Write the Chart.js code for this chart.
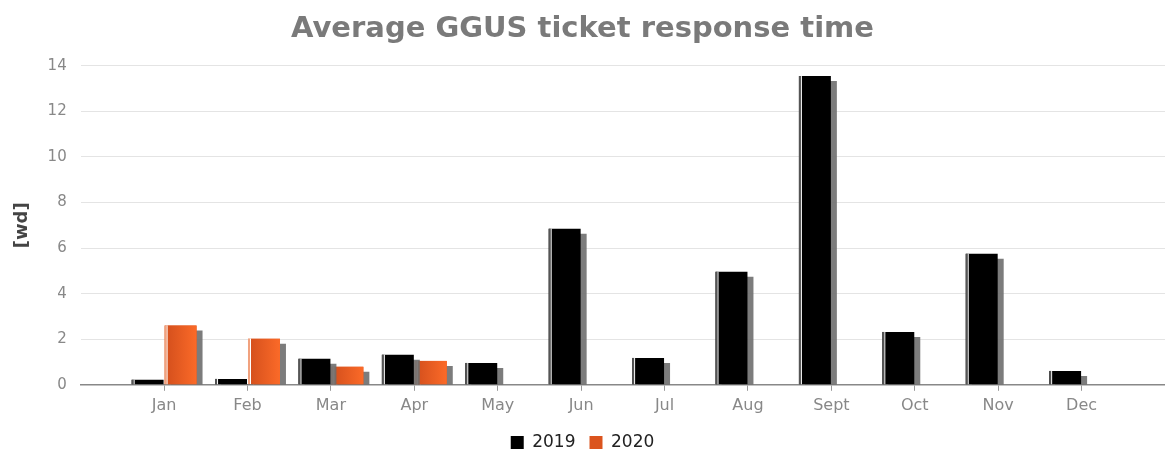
<!DOCTYPE html>
<html>
<head>
<meta charset="utf-8">
<script src="https://cdn.jsdelivr.net/npm/chart.js@4/dist/chart.umd.min.js"></script>
<style>
  html, body { margin: 0; padding: 0; background: #fff; }
  #wrap { width: 1165px; height: 450px; }
</style>
</head>
<body>
<div id="wrap"><canvas id="ggusChart"></canvas></div>
<script>
const months = ['Jan', 'Feb', 'Mar', 'Apr', 'May', 'Jun', 'Jul', 'Aug', 'Sept', 'Oct', 'Nov', 'Dec'];
const values2019 = [0.22, 0.26, 1.14, 1.32, 0.96, 6.85, 1.18, 4.96, 13.55, 2.32, 5.75, 0.61];
const values2020 = [2.6, 2.02, 0.79, 1.05, null, null, null, null, null, null, null, null];
const yTicks = [0, 2, 4, 6, 8, 10, 12, 14];

// empty slot on each side so the months sit inside the full-width axis
const labels = [''].concat(months, ['']);
const pad = arr => [null].concat(arr, [null]);
const FONT = "'DejaVu Sans', sans-serif";

// grey drop shadow behind every bar
const barShadow = {
  id: 'barShadow',
  beforeDatasetsDraw(chart) {
    const ctx = chart.ctx;
    ctx.save();
    ctx.shadowColor = 'rgba(110,110,110,0.9)';
    ctx.shadowOffsetX = 6;
    ctx.shadowOffsetY = 5;
    ctx.shadowBlur = 0;
  },
  afterDatasetsDraw(chart) {
    chart.ctx.restore();
  }
};

// gradient on the orange bars and the thin light strip on the left edge
const barShine = {
  id: 'barShine',
  afterDatasetDraw(chart, args) {
    const ctx = chart.ctx;
    const area = chart.chartArea;
    const meta = args.meta;
    ctx.save();
    ctx.shadowColor = 'rgba(0,0,0,0)';
    ctx.beginPath();
    ctx.rect(area.left, area.top, area.right - area.left, area.bottom - area.top);
    ctx.clip();
    meta.data.forEach((bar, i) => {
      const raw = chart.data.datasets[args.index].data[i];
      if (raw === null || raw === undefined) return;
      const p = bar.getProps(['x', 'y', 'base', 'width'], true);
      const left = p.x - p.width / 2;
      const right = p.x + p.width / 2;
      if (args.index === 1) {
        const g = ctx.createLinearGradient(left, 0, right, 0);
        g.addColorStop(0, '#d24e1c');
        g.addColorStop(1, '#fb6a28');
        ctx.fillStyle = g;
        ctx.fillRect(left + 3, p.y, p.width - 3, p.base - p.y);
        ctx.fillStyle = '#f1a27e';
        ctx.fillRect(left, p.y, 2, p.base - p.y);
      } else {
        ctx.fillStyle = '#555';
        ctx.fillRect(left, p.y, 2, p.base - p.y);
      }
      ctx.fillStyle = '#ffffff';
      ctx.fillRect(left + 2, p.y, 1, p.base - p.y);
    });
    ctx.restore();
  }
};

const ctx = document.getElementById('ggusChart').getContext('2d');
new Chart(ctx, {
  type: 'bar',
  data: {
    labels: labels,
    datasets: [{
      label: '2019',
      data: pad(values2019),
      backgroundColor: '#000000'
    }, {
      label: '2020',
      data: pad(values2020),
      backgroundColor: '#db541e'
    }]
  },
  options: {
    responsive: true,
    maintainAspectRatio: false,
    animation: false,
    datasets: { bar: { categoryPercentage: 0.79, barPercentage: 0.97 } },
    layout: { padding: { left: 0, right: 0, top: 0, bottom: -11 } },
    plugins: {
      title: {
        display: true,
        text: 'Average GGUS ticket response time',
        color: '#7a7a7a',
        font: { family: FONT, size: 29, weight: 'bold' },
        padding: { top: 12, bottom: 19 }
      },
      legend: {
        position: 'bottom',
        labels: {
          color: '#222',
          font: { family: FONT, size: 17 },
          boxWidth: 13,
          boxHeight: 13,
          padding: 14
        }
      },
      tooltip: { enabled: false }
    },
    scales: {
      x: {
        offset: false,
        afterFit: s => { s.paddingRight = 0; },
        border: { color: '#888', width: 1.5 },
        grid: {
          offset: false,
          drawOnChartArea: false,
          drawTicks: true,
          tickLength: 6,
          tickColor: c => (c.index === 0 || c.index === labels.length - 1) ? 'rgba(0,0,0,0)' : '#999'
        },
        ticks: {
          color: '#888',
          font: { family: FONT, size: 16 },
          maxRotation: 0,
          autoSkip: false,
          padding: 5
        }
      },
      y: {
        min: 0,
        max: 14,
        afterBuildTicks: axis => { axis.ticks = yTicks.map(v => ({ value: v })); },
        border: { display: false },
        grid: { color: '#e4e4e4', drawTicks: false },
        ticks: {
          color: '#888',
          font: { family: FONT, size: 15 },
          padding: 14
        },
        title: {
          display: true,
          text: '[wd]',
          color: '#444',
          font: { family: FONT, size: 18, weight: 'bold' },
          padding: { top: 12, bottom: 0 }
        }
      }
    }
  },
  plugins: [barShadow, barShine]
});
</script>
</body>
</html>
